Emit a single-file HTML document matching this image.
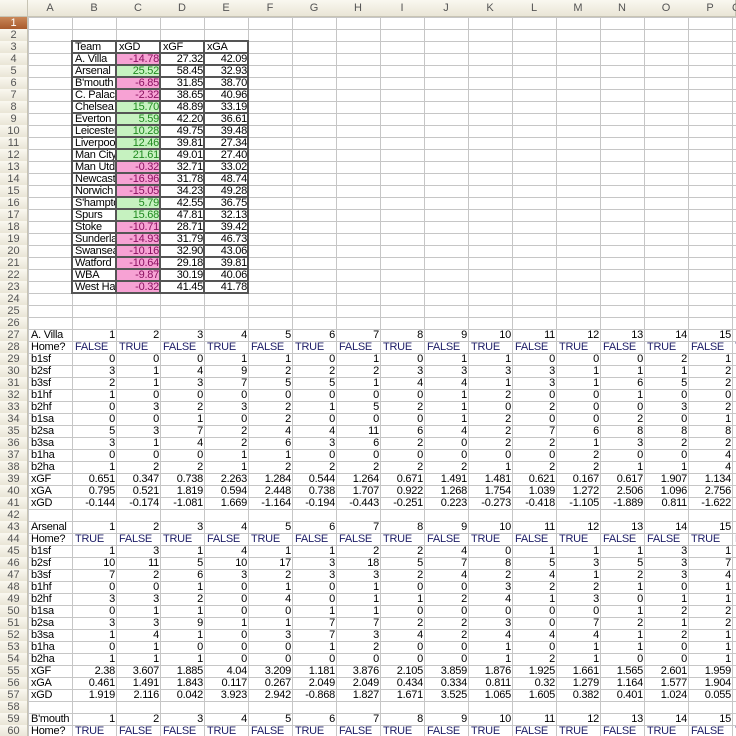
<!DOCTYPE html>
<html><head><meta charset="utf-8">
<style>
html,body{margin:0;width:736px;height:736px;overflow:hidden;background:#fff}
body{font-family:"Liberation Sans",Arial,sans-serif;font-size:11px}
#sheet{position:relative;width:736px;height:736px;overflow:hidden}
.c{position:absolute;height:12px;line-height:12px;overflow:hidden;white-space:nowrap;box-sizing:border-box;padding:0 1px 0 2px;color:#000;letter-spacing:-0.25px}
.r{text-align:right}
.hd{position:absolute;box-sizing:border-box;background:linear-gradient(#faf8f0,#e9e5d6);color:#555;text-align:center;border-right:1px solid #c8c4b4;border-bottom:1px solid #c8c4b4;font-size:11px}
.gl{position:absolute;background:#c6c6c6}
.tb{position:absolute;background:#555}
</style></head><body>
<div id="sheet"></div>
<script>
const teams=["A. Villa","Arsenal","B'mouth","C. Palace","Chelsea","Everton","Leicester","Liverpool","Man City","Man Utd","Newcastle","Norwich","S'hampton","Spurs","Stoke","Sunderland","Swansea","Watford","WBA","West Ham"];
const xGD=["-14.78","25.52","-6.85","-2.32","15.70","5.59","10.28","12.46","21.61","-0.32","-16.96","-15.05","5.79","15.68","-10.71","-14.93","-10.16","-10.64","-9.87","-0.32"];
const xGF=["27.32","58.45","31.85","38.65","48.89","42.20","49.75","39.81","49.01","32.71","31.78","34.23","42.55","47.81","28.71","31.79","32.90","29.18","30.19","41.45"];
const xGA=["42.09","32.93","38.70","40.96","33.19","36.61","39.48","27.34","27.40","33.02","48.74","49.28","36.75","32.13","39.42","46.73","43.06","39.81","40.06","41.78"];
const labels=["b1sf","b2sf","b3sf","b1hf","b2hf","b1sa","b2sa","b3sa","b1ha","b2ha","xGF","xGA","xGD"];
const villaHome="FTFTFTFTFTFTFTFT";
const villa=[
[0,0,0,1,1,0,1,0,1,1,0,0,0,2,1],
[3,1,4,9,2,2,2,3,3,3,3,1,1,1,2],
[2,1,3,7,5,5,1,4,4,1,3,1,6,5,2],
[1,0,0,0,0,0,0,0,1,2,0,0,1,0,0],
[0,3,2,3,2,1,5,2,1,0,2,0,0,3,2],
[0,0,1,0,2,0,0,0,1,2,0,0,2,0,1],
[5,3,7,2,4,4,11,6,4,2,7,6,8,8,8],
[3,1,4,2,6,3,6,2,0,2,2,1,3,2,2],
[0,0,0,1,1,0,0,0,0,0,0,2,0,0,4],
[1,2,2,1,2,2,2,2,2,1,2,2,1,1,4],
["0.651","0.347","0.738","2.263","1.284","0.544","1.264","0.671","1.491","1.481","0.621","0.167","0.617","1.907","1.134"],
["0.795","0.521","1.819","0.594","2.448","0.738","1.707","0.922","1.268","1.754","1.039","1.272","2.506","1.096","2.756"],
["-0.144","-0.174","-1.081","1.669","-1.164","-0.194","-0.443","-0.251","0.223","-0.273","-0.418","-1.105","-1.889","0.811","-1.622"]];
const arsHome="TFTFTFFTFTFTFFTF";
const ars=[
[1,3,1,4,1,1,2,2,4,0,1,1,1,3,1],
[10,11,5,10,17,3,18,5,7,8,5,3,5,3,7],
[7,2,6,3,2,3,3,2,4,2,4,1,2,3,4],
[0,0,1,0,1,0,1,0,0,3,2,2,1,0,1],
[3,3,2,0,4,0,1,1,2,4,1,3,0,1,1],
[0,1,1,0,0,1,1,0,0,0,0,0,1,2,2],
[3,3,9,1,1,7,7,2,2,3,0,7,2,1,2],
[1,4,1,0,3,7,3,4,2,4,4,4,1,2,1],
[0,1,0,0,0,1,2,0,0,1,0,1,1,0,1],
[1,1,1,0,0,0,0,0,0,1,2,1,0,0,1],
["2.38","3.607","1.885","4.04","3.209","1.181","3.876","2.105","3.859","1.876","1.925","1.661","1.565","2.601","1.959"],
["0.461","1.491","1.843","0.117","0.267","2.049","2.049","0.434","0.334","0.811","0.32","1.279","1.164","1.577","1.904"],
["1.919","2.116","0.042","3.923","2.942","-0.868","1.827","1.671","3.525","1.065","1.605","0.382","0.401","1.024","0.055"]];
const bmHome="TFFTFTFTFTFTFTFT";

const S=document.getElementById('sheet');
const X0=28,CW=44,Y0=17,RH=12,NC=17,NR=60;
const cx=c=>X0+c*CW;
const ry=r=>Y0+(r-1)*RH;
function el(cls,x,y,w,h,txt,name){const d=document.createElement('div');d.className=cls;d.style.left=x+'px';d.style.top=y+'px';if(w!=null)d.style.width=w+'px';if(h!=null)d.style.height=h+'px';if(txt!=null)d.textContent=txt;


S.appendChild(d);return d;}
for(let c=0;c<=NC;c++){if(cx(c)<736)el('gl',cx(c),0,1,736,null,'grid-line-v');}
for(let r=1;r<=NR+1;r++){el('gl',0,ry(r),736,1,null,'grid-line-h');}
el('hd',0,0,X0,Y0,'','corner-header');
const letters="ABCDEFGHIJKLMNOPQ";
for(let c=0;c<NC;c++){const w=Math.min(CW+1,736-cx(c));const h=el('hd',cx(c),0,w,Y0,letters[c],'column-header-'+letters[c].toLowerCase());h.style.lineHeight=Y0+'px';}
for(let r=1;r<=NR;r++){const h=el('hd',0,ry(r),X0,RH+1,String(r),'row-header-'+r);h.style.lineHeight='12px';
if(r===1){h.style.background='linear-gradient(#c98758,#a85a2c)';h.style.color='#fff';}}
function cell(col,row,txt,right,name,color,bg){const w=Math.min(CW-1,736-cx(col)-1);const d=el('c'+(right?' r':''),cx(col)+1,ry(row)+1,w,RH-1,String(txt),name);d.style.lineHeight='11px';if(color)d.style.color=color;if(bg)d.style.background=bg;return d;}
cell(1,3,'Team',false,'header-team');cell(2,3,'xGD',false,'header-xgd');cell(3,3,'xGF',false,'header-xgf');cell(4,3,'xGA',false,'header-xga');
teams.forEach((t,i)=>{const r=4+i;cell(1,r,t,false,'team-name');
const v=parseFloat(xGD[i]);const pos=v>0;
cell(2,r,xGD[i],true,'team-xgd',pos?'#1f8a1f':'#8a1060',pos?'#c6f2c0':'#f7a2d4');
cell(3,r,xGF[i],true,'team-xgf');cell(4,r,xGA[i],true,'team-xga');});
for(let c=1;c<=5;c++){el('tb',cx(c)-1,ry(3)-1,2,RH*21+2,null,'table-border-v');}
for(let r=3;r<=24;r++){el('tb',cx(1)-1,ry(r)-1,CW*4+2,2,null,'table-border-h');}
const BC='#1c1c66';
function block(startRow,name,home,data){
 cell(0,startRow,name,false,'team-label');
 for(let i=0;i<15;i++)cell(1+i,startRow,i+1,true,'match-number');
 cell(0,startRow+1,'Home?',false,'home-label');
 for(let i=0;i<16;i++)cell(1+i,startRow+1,home[i]==='T'?'TRUE':'FALSE',false,'home-flag',BC);
 if(!data)return;
 labels.forEach((l,k)=>{cell(0,startRow+2+k,l,false,'stat-label');
  data[k].forEach((v,i)=>cell(1+i,startRow+2+k,v,true,'stat-value'));});
}
block(27,'A. Villa',villaHome,villa);
block(43,'Arsenal',arsHome,ars);
block(59,"B'mouth",bmHome,null);
</script>
</body></html>
